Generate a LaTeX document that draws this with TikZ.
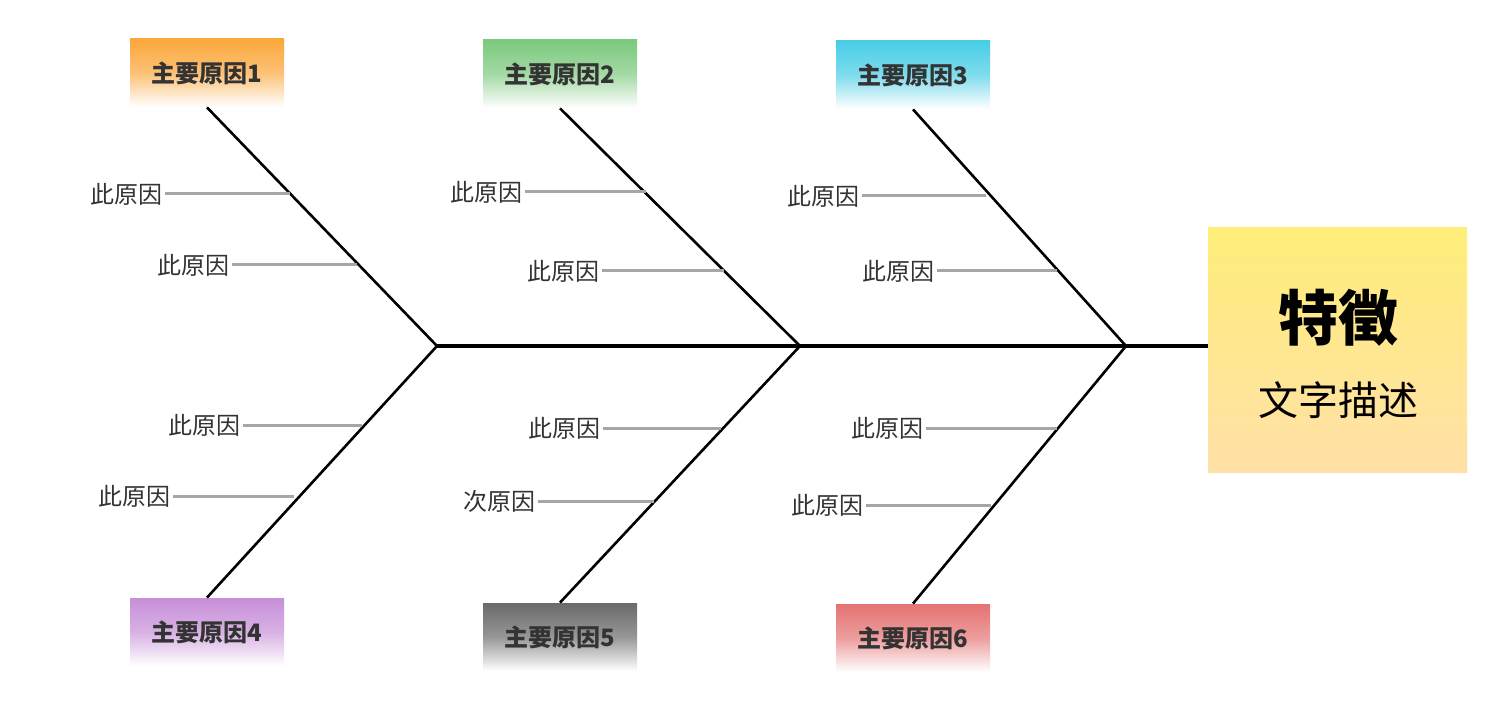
\documentclass[tikz,border=0pt]{standalone}
\usepackage{fontspec}
\newfontfamily\cjk{Noto Sans CJK SC}
\begin{document}
\begin{tikzpicture}[x=0.5pt,y=-0.5pt,font=\cjk,
  bone/.style={line width=1.3pt,black},
  rib/.style={line width=1.5pt,color={rgb,255:red,166;green,166;blue,166}},
  lab/.style={font=\cjk\fontsize{12}{14}\selectfont,text=black!80,inner sep=1pt,anchor=east},
  cause/.style={minimum width=77pt,minimum height=34pt,inner sep=0pt,font=\cjk\bfseries\fontsize{12}{14}\selectfont,text=black!80}]
\useasboundingbox (0,0) rectangle (1504,711);
% cause boxes
\definecolor{c1}{HTML}{FBA73B}\definecolor{c2}{HTML}{7CC97E}\definecolor{c3}{HTML}{48CDE6}
\definecolor{c4}{HTML}{C78FD8}\definecolor{c5}{HTML}{6A6A6A}\definecolor{c6}{HTML}{E57373}
\node[cause,top color=c1,bottom color=white,middle color=c1!70] (m1) at (207,73) {主要原因1};
\node[cause,top color=c2,bottom color=white,middle color=c2!70] (m2) at (560,74) {主要原因2};
\node[cause,top color=c3,bottom color=white,middle color=c3!70] (m3) at (913,75) {主要原因3};
\node[cause,top color=c4,bottom color=white,middle color=c4!70] (m4) at (207,632) {主要原因4};
\node[cause,top color=c5,bottom color=white,middle color=c5!70] (m5) at (560,637) {主要原因5};
\node[cause,top color=c6,bottom color=white,middle color=c6!70] (m6) at (913,638) {主要原因6};
% effect
\definecolor{ey1}{HTML}{FFEE7A}\definecolor{ey2}{HTML}{FFE0A8}
\node[minimum width=129.5pt,minimum height=122pt,inner sep=0pt,top color=ey1,bottom color=ey2] (eff) at (1337.5,350) {};
\node[font=\cjk\bfseries\fontsize{30}{32}\selectfont] (t1) at (1338,318) {特徵};
\node[font=\cjk\fontsize{20}{22}\selectfont] (t2) at (1338,400) {文字描述};
% junctions
\coordinate (j1) at (437,346); \coordinate (j2) at (800,346); \coordinate (j3) at (1126,346);
\draw[line width=2.2pt] (j1) -- (j1 -| eff.west);
\draw[bone] (m1.south) -- (j1); \draw[bone] (m2.south) -- (j2); \draw[bone] (m3.south) -- (j3);
\draw[bone] (m4.north) -- (j1); \draw[bone] (m5.north) -- (j2); \draw[bone] (m6.north) -- (j3);
% ribs
\newcommand\myrib[6]{\node[lab] (#1) at (#2,#4) {#6}; \coordinate (#1e) at (#3,#4); \draw[rib] (#1.east) -- (#1e);}
\myrib{a1}{165}{290}{194}{}{此原因}
\myrib{a2}{232}{357}{265}{}{此原因}
\myrib{b1}{525}{646}{192}{}{此原因}
\myrib{b2}{602}{724}{271}{}{此原因}
\myrib{c1}{862}{986}{196}{}{此原因}
\myrib{c2}{937}{1057}{271}{}{此原因}
\myrib{d1}{243}{362}{425}{}{此原因}
\myrib{d2}{173}{294}{496}{}{此原因}
\myrib{e1}{603}{721}{428}{}{此原因}
\myrib{e2}{538}{654}{501}{}{次原因}
\myrib{f1}{926}{1057}{428}{}{此原因}
\myrib{f2}{866}{991}{505}{}{此原因}
\end{tikzpicture}
\end{document}
